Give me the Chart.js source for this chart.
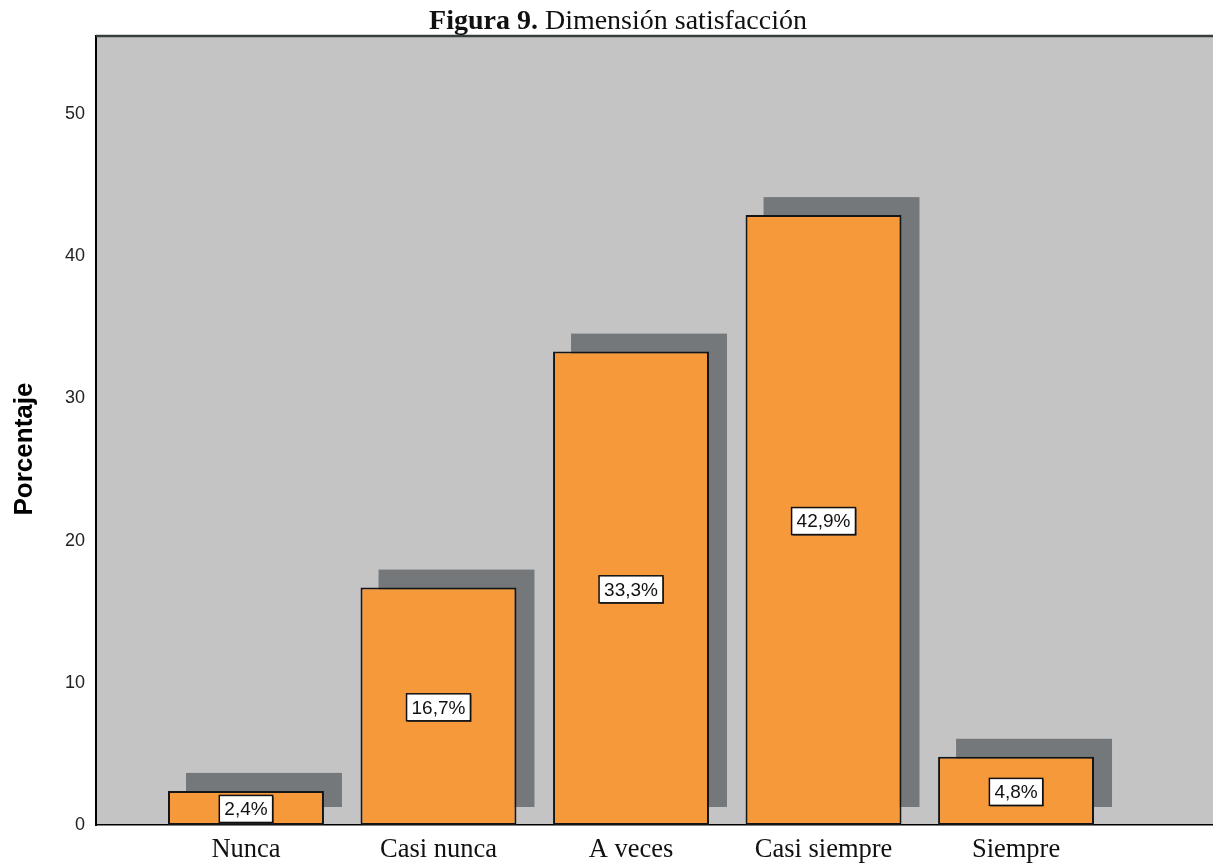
<!DOCTYPE html>
<html>
<head>
<meta charset="utf-8">
<script src="https://cdn.jsdelivr.net/npm/chart.js@4.4.1/dist/chart.umd.min.js"></script>
<style>
html,body{margin:0;padding:0;background:#fff;}
#wrap{width:1213px;height:866px;}
</style>
</head>
<body>
<div id="wrap"><canvas id="c" width="1213" height="866"></canvas></div>
<script>
const categories = ['Nunca', 'Casi nunca', 'A veces', 'Casi siempre', 'Siempre'];
const percentages = [2.4, 16.7, 33.3, 42.9, 4.8];
const valueLabels = ['2,4%', '16,7%', '33,3%', '42,9%', '4,8%'];
const yTicks = [0, 10, 20, 30, 40, 50];
const titleBold = 'Figura 9.';
const titleRest = ' Dimensión satisfacción';
const yTitle = 'Porcentaje';

const SHADOW = 18;

const framePlugin = {
  id: 'frame',
  beforeDraw(chart) {
    const {ctx, chartArea: a} = chart;
    ctx.save();
    ctx.fillStyle = '#c4c4c4';
    ctx.fillRect(a.left, a.top, a.right - a.left, a.bottom - a.top);
    ctx.restore();
  },
  beforeDatasetsDraw(chart) {
    const {ctx} = chart;
    const meta = chart.getDatasetMeta(0);
    ctx.save();
    ctx.fillStyle = '#75787a';
    meta.data.forEach(el => {
      const p = el.getProps(['x', 'y', 'base', 'width'], true);
      const left = p.x - p.width / 2 + SHADOW;
      const top = p.y - SHADOW;
      const bottom = p.base - SHADOW;
      ctx.fillRect(left, top, p.width, bottom - top);
    });
    ctx.restore();
  },
  afterDatasetsDraw(chart) {
    const {ctx} = chart;
    const meta = chart.getDatasetMeta(0);
    ctx.save();
    ctx.font = '19px "Liberation Sans", Arial, sans-serif';
    ctx.textAlign = 'center';
    ctx.textBaseline = 'middle';
    meta.data.forEach((el, i) => {
      const p = el.getProps(['x', 'y', 'base'], true);
      const cy = (p.y + p.base) / 2 + 1;
      const txt = valueLabels[i];
      const w = ctx.measureText(txt).width + 10;
      const h = 27;
      ctx.fillStyle = '#333';
      ctx.fillRect(p.x - w / 2 + 1, cy - h / 2 + 1, w, h);
      ctx.fillStyle = '#ffffff';
      ctx.fillRect(p.x - w / 2, cy - h / 2, w, h);
      ctx.strokeStyle = '#111';
      ctx.lineWidth = 1.5;
      ctx.strokeRect(p.x - w / 2, cy - h / 2, w, h);
      ctx.fillStyle = '#111';
      ctx.fillText(txt, p.x, cy + 1);
    });
    ctx.restore();
  },
  afterDraw(chart) {
    const {ctx, chartArea: a} = chart;
    ctx.save();
    ctx.strokeStyle = '#3a3d3f';
    ctx.lineWidth = 2.5;
    ctx.beginPath();
    ctx.moveTo(a.left, a.top);
    ctx.lineTo(a.right, a.top);
    ctx.stroke();
    ctx.textBaseline = 'alphabetic';
    ctx.fillStyle = '#111';
    const fb = 'bold 28px "Liberation Serif", "Times New Roman", serif';
    const fn = '28px "Liberation Serif", "Times New Roman", serif';
    ctx.font = fb;
    const wb = ctx.measureText(titleBold).width;
    ctx.font = fn;
    const wn = ctx.measureText(titleRest).width;
    const cx = 618;
    const x0 = cx - (wb + wn) / 2;
    ctx.textAlign = 'left';
    ctx.font = fb;
    ctx.fillText(titleBold, x0, 29);
    ctx.font = fn;
    ctx.fillText(titleRest, x0 + wb, 29);
    ctx.translate(25, 449);
    ctx.rotate(-Math.PI / 2);
    ctx.font = 'bold 26px "Liberation Sans", Arial, sans-serif';
    ctx.textAlign = 'center';
    ctx.textBaseline = 'middle';
    ctx.fillStyle = '#000';
    ctx.fillText(yTitle, 0, 0);
    ctx.restore();
  }
};

const ctx = document.getElementById('c').getContext('2d');
new Chart(ctx, {
  type: 'bar',
  data: {
    datasets: [{
      data: percentages.map((v, i) => ({x: i + 1, y: v})),
      backgroundColor: '#f5993a',
      borderColor: '#151515',
      borderWidth: 2,
      borderSkipped: false,
      barPercentage: 0.81,
      categoryPercentage: 1.0
    }]
  },
  options: {
    responsive: false,
    animation: false,
    events: [],
    layout: {padding: {left: 0, right: 0, top: 36, bottom: 0}},
    plugins: {legend: {display: false}, tooltip: {enabled: false}, title: {display: false}},
    scales: {
      x: {
        type: 'linear',
        offset: false,
        min: 0.221,
        max: 6.023,
        grid: {display: false, drawTicks: false, offset: false},
        border: {display: true, color: '#000', width: 1.5},
        afterBuildTicks(scale) { scale.ticks = categories.map((c, i) => ({value: i + 1})); },
        afterFit(scale) { scale.height = 41; },
        ticks: {
          autoSkip: false,
          maxRotation: 0,
          padding: 9,
          color: '#111',
          font: {family: '"Liberation Serif", "Times New Roman", serif', size: 26.5},
          callback: (v) => categories[Math.round(v) - 1] || ''
        }
      },
      y: {
        min: 0,
        max: 55.5,
        grid: {display: false, drawTicks: false},
        border: {display: true, color: '#000', width: 2},
        afterBuildTicks(scale) { scale.ticks = yTicks.map(v => ({value: v})); },
        afterFit(scale) { scale.width = 96; },
        ticks: {
          padding: 11,
          color: '#222',
          font: {family: '"Liberation Sans", Arial, sans-serif', size: 18},
          callback: (v) => String(v)
        }
      }
    }
  },
  plugins: [framePlugin]
});
</script>
</body>
</html>
